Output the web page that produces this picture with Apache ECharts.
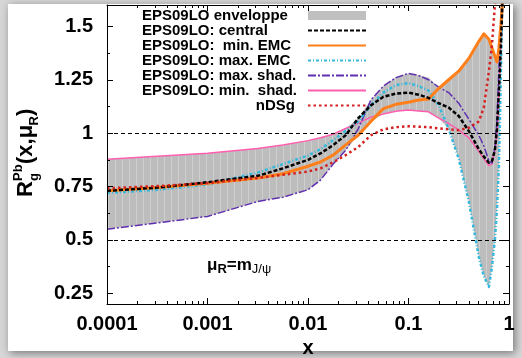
<!DOCTYPE html>
<html><head><meta charset="utf-8">
<script src="https://cdn.jsdelivr.net/npm/echarts@6/dist/echarts.min.js"></script>
<style>html,body{margin:0;padding:0;background:#d6d6d6}#c{width:522px;height:358px}</style>
</head><body><div id="c"></div>
<script>
// ---- data ----
const xValues = [0.0001, 0.000316, 0.001, 0.00316, 0.00562, 0.01, 0.0133, 0.0178, 0.0237, 0.0316, 0.0422, 0.0562, 0.075, 0.1,
  0.126, 0.158, 0.2, 0.251, 0.316, 0.398, 0.501, 0.562, 0.631, 0.676, 0.724, 0.759, 0.794, 0.813, 0.832, 0.851, 0.871, 0.891];
const envelopeUpper = [0.878,0.892,0.906,0.928,0.945,0.965,0.978,0.995,1.022,1.07,1.155,1.22,1.26,1.28,1.27,1.26,1.215,1.25,1.29,1.35,1.43,1.465,1.44,1.40,1.36,1.34,1.40,1.46,1.53,1.65,1.8,1.95];
const envelopeLower = [0.55,0.58,0.61,0.68,0.70,0.735,0.78,0.855,0.92,0.99,1.055,1.09,1.103,1.108,1.104,1.10,1.07,1.02,0.88,0.68,0.42,0.33,0.28,0.37,0.5,0.65,0.85,1.06,1.3,1.55,1.75,1.9];
const central = [0.73,0.745,0.77,0.80,0.835,0.875,0.905,0.944,0.99,1.07,1.13,1.17,1.185,1.19,1.18,1.165,1.14,1.12,1.08,1.01,0.925,0.89,0.862,0.868,0.92,1.02,1.2,1.3,1.42,1.55,1.7,1.85];
const minEMC = [0.73,0.745,0.765,0.79,0.81,0.845,0.865,0.897,0.945,0.99,1.055,1.115,1.135,1.145,1.155,1.16,1.21,1.25,1.29,1.35,1.43,1.465,1.44,1.40,1.36,1.333,1.40,1.46,1.51,1.58,1.7,1.8];
const maxEMC = [0.72,0.735,0.76,0.815,0.855,0.895,0.925,0.967,1.01,1.055,1.13,1.19,1.225,1.235,1.22,1.2,1.13,1.02,0.88,0.68,0.42,0.33,0.28,0.37,0.5,0.64,0.85,1.06,1.3,1.55,1.75,1.95];
const maxShad = [0.55,0.58,0.61,0.68,0.70,0.735,0.78,0.855,0.92,1.02,1.155,1.22,1.26,1.28,1.27,1.25,1.215,1.19,1.14,1.065,0.99,0.94,0.87,0.86,0.935,1.06,1.3,1.42,1.53,1.65,1.8,1.95];
const minShad = [0.878,0.892,0.906,0.928,0.945,0.965,0.978,0.995,1.022,1.047,1.075,1.09,1.103,1.108,1.104,1.10,1.07,1.045,1.015,0.978,0.915,0.88,0.848,0.855,0.92,1.0,1.21,1.32,1.46,1.6,1.75,1.9];
const nDSg = [0.742,0.752,0.766,0.79,0.805,0.82,0.835,0.864,0.897,0.935,0.99,1.018,1.028,1.032,1.03,1.028,1.022,1.018,1.014,1.025,1.055,1.12,1.29,1.41,1.6,1.75,null,null,null,null,null,null];
const seriesNames = ['EPS09LO enveloppe','EPS09LO: central','EPS09LO:  min. EMC','EPS09LO: max. EMC','EPS09LO: max. shad.','EPS09LO: min.  shad.','nDSg'];
const xMajorTicks = [0.0001, 0.001, 0.01, 0.1, 1];
const xTickLabels = ['0.0001','0.001','0.01','0.1','1'];
const yMajorTicks = [0.25, 0.5, 0.75, 1, 1.25, 1.5];
const yTickLabels = ['0.25','0.5','0.75','1','1.25','1.5'];
const yMinorTicks = [0.375, 0.625, 0.875, 1.125, 1.375];
const refLines = [1, 0.5];
const xMinorTicks = [];
for (const d of [0.0001, 0.001, 0.01, 0.1]) for (let k = 2; k <= 9; k++) xMinorTicks.push(+(d * k).toPrecision(3));

// ---- chart ----
const FONT = "'Liberation Sans', Arial, Helvetica, sans-serif";
const chart = echarts.init(document.getElementById('c'), null, {renderer: 'canvas'});
const pairs = arr => xValues.map((x, i) => [x, arr[i]]);
const xFmt = v => { const i = xMajorTicks.findIndex(t => Math.abs(Math.log10(t) - Math.log10(v)) < 1e-6); return i >= 0 ? xTickLabels[i] : ''; };
const yFmt = v => { const i = yMajorTicks.findIndex(t => Math.abs(t - v) < 1e-6); return i >= 0 ? yTickLabels[i] : ''; };

// light vertical hatching of the envelope fill
const hatch = document.createElement('canvas');
hatch.width = 7; hatch.height = 4;
(function () { const g = hatch.getContext('2d'); g.fillStyle = '#bdbdbd'; g.fillRect(0, 0, 7, 4); g.fillStyle = '#cfcfcf'; g.fillRect(3, 0, 1, 4); })();

function xAx(grid, pos, ticks, len, labels) {
  return {type: 'log', logBase: 10, min: 0.0001, max: 1, gridIndex: grid, position: pos, z: 10,
    axisLine: {show: grid === 0, lineStyle: {color: '#000', width: 1}},
    axisTick: {show: true, inside: true, length: len, customValues: ticks, lineStyle: {color: '#000', width: 1}},
    axisLabel: labels ? {show: true, customValues: xMajorTicks, formatter: xFmt, margin: 10, color: '#000', fontSize: 20, fontWeight: 'bold', fontFamily: FONT} : {show: false},
    splitLine: {show: false}, minorTick: {show: false},
    name: labels ? 'x' : '', nameLocation: 'middle', nameGap: 23,
    nameTextStyle: {color: '#000', fontSize: 20, fontWeight: 'bold', fontFamily: FONT}};
}
function yAx(grid, pos, ticks, len, labels) {
  return {type: 'value', min: 0.2, max: 1.6, gridIndex: grid, position: pos, z: 10,
    axisLine: {show: grid === 0, lineStyle: {color: '#000', width: 1}},
    axisTick: {show: true, inside: true, length: len, customValues: ticks, lineStyle: {color: '#000', width: 1}},
    axisLabel: labels ? {show: true, customValues: yMajorTicks, formatter: yFmt, margin: 14, color: '#000', fontSize: 20, fontWeight: 'bold', fontFamily: FONT} : {show: false},
    splitLine: {show: false}};
}
const gridBox = {left: 107, right: 13, top: 5, bottom: 54, outerBoundsMode: 'none', containLabel: false};

function lineSeries(name, arr, color, width, type, z) {
  return {type: 'line', name, data: pairs(arr), xAxisIndex: 0, yAxisIndex: 0, symbol: 'none', showSymbol: false,
    smooth: false, connectNulls: false, clip: true, z,
    lineStyle: {color, width, type, cap: 'butt', join: 'round'}, itemStyle: {color}};
}

const option = {
  animation: false,
  backgroundColor: '#d6d6d6',
  grid: [Object.assign({}, gridBox), Object.assign({}, gridBox)],
  xAxis: [xAx(0, 'bottom', xMajorTicks, 6, true), xAx(0, 'top', xMajorTicks, 6, false),
          xAx(1, 'bottom', xMinorTicks, 3, false), xAx(1, 'top', xMinorTicks, 3, false)],
  yAxis: [yAx(0, 'left', yMajorTicks, 6, true), yAx(0, 'right', yMajorTicks, 6, false),
          yAx(1, 'left', yMinorTicks, 3, false), yAx(1, 'right', yMinorTicks, 3, false)],
  legend: {
    orient: 'vertical', left: 142, top: 8, padding: 0, align: 'right', itemWidth: 58, itemHeight: 9, itemGap: 0,
    selectedMode: false,
    data: [{name: seriesNames[0], icon: 'rect'}].concat(seriesNames.slice(1).map(n => ({name: n, itemStyle: {opacity: 0}}))),
    formatter: n => n === 'nDSg' ? '{r|' + n + '}' : '{l|' + n + '}',
    textStyle: {rich: {
      l: {width: 161, align: 'left', fontSize: 15, fontWeight: 'bold', fontFamily: FONT, color: '#000', lineHeight: 14},
      r: {width: 153, align: 'right', fontSize: 15, fontWeight: 'bold', fontFamily: FONT, color: '#000', lineHeight: 14, padding: [0, 8, 0, 0]}
    }}
  },
  graphic: [
    {type: 'rect', z: -100, silent: true, shape: {x: 8, y: 4, width: 505, height: 347},
     style: {fill: '#ffffff', shadowBlur: 8, shadowColor: 'rgba(0,0,0,0.45)', shadowOffsetX: 2, shadowOffsetY: 2}},
    {type: 'group', x: 26, y: 197, rotation: Math.PI / 2, silent: true, children: [
      {type: 'text', x: 0, y: 0, style: {text: 'R', font: 'bold 22px ' + FONT, fill: '#000', align: 'left', verticalAlign: 'middle'}},
      {type: 'text', x: 16, y: 8, style: {text: 'g', font: 'bold 13px ' + FONT, fill: '#000', align: 'left', verticalAlign: 'middle'}},
      {type: 'text', x: 16, y: -8, style: {text: 'Pb', font: 'bold 13px ' + FONT, fill: '#000', align: 'left', verticalAlign: 'middle'}},
      {type: 'text', x: 33, y: 0, style: {text: '(x,μ', font: 'bold 22px ' + FONT, fill: '#000', align: 'left', verticalAlign: 'middle'}},
      {type: 'text', x: 71.5, y: 8, style: {text: 'R', font: 'bold 13px ' + FONT, fill: '#000', align: 'left', verticalAlign: 'middle'}},
      {type: 'text', x: 81, y: 0, style: {text: ')', font: 'bold 22px ' + FONT, fill: '#000', align: 'left', verticalAlign: 'middle'}}
    ]},
    {type: 'text', x: 207, y: 265, silent: true, style: {
      text: '{a|μ}{s|R}{a|=m}{t|J/ψ}', align: 'left', verticalAlign: 'middle',
      rich: {
        a: {fontSize: 17, fontWeight: 'bold', fontFamily: FONT, fill: '#000', lineHeight: 22},
        s: {fontSize: 13, fontWeight: 'bold', fontFamily: FONT, fill: '#000', lineHeight: 13, verticalAlign: 'bottom'},
        t: {fontSize: 13, fontWeight: 'normal', fontFamily: FONT, fill: '#000', lineHeight: 13, verticalAlign: 'bottom'}
      }}}
  ],
  series: [
    {type: 'custom', name: seriesNames[0], xAxisIndex: 0, yAxisIndex: 0, z: 1, silent: true,
     itemStyle: {color: '#c0c0c0'}, data: [[0.01, 1]],
     renderItem: (params, api) => {
       const pts = [];
       for (let i = 0; i < xValues.length; i++) pts.push(api.coord([xValues[i], envelopeUpper[i]]));
       for (let i = xValues.length - 1; i >= 0; i--) pts.push(api.coord([xValues[i], envelopeLower[i]]));
       const cs = params.coordSys;
       return {type: 'polygon', shape: {points: pts}, style: {fill: {image: hatch, repeat: 'repeat'}},
         clipPath: {type: 'rect', shape: {x: cs.x, y: cs.y, width: cs.width, height: cs.height}}};
     }},
    {type: 'line', name: 'ref', data: [], xAxisIndex: 0, yAxisIndex: 0, z: 2, silent: true,
     markLine: {silent: true, symbol: ['none', 'none'], label: {show: false},
       lineStyle: {color: '#000', width: 1, type: [4, 3]},
       data: refLines.map(v => ({yAxis: v}))}},
    lineSeries(seriesNames[5], minShad, '#ff5fae', 1.5, 'solid', 3),
    lineSeries(seriesNames[4], maxShad, '#6030b0', 1.5, [8, 2, 2, 2], 3),
    lineSeries(seriesNames[3], maxEMC, '#36b9dc', 2.5, [3, 2, 1, 2], 3),
    lineSeries(seriesNames[2], minEMC, '#ff7f1a', 3, 'solid', 4),
    lineSeries(seriesNames[1], central, '#000000', 2.5, [4, 2], 5),
    lineSeries(seriesNames[6], nDSg, '#d42020', 2.5, [2.5, 3], 6)
  ]
};
chart.setOption(option);
</script>
</body></html>
